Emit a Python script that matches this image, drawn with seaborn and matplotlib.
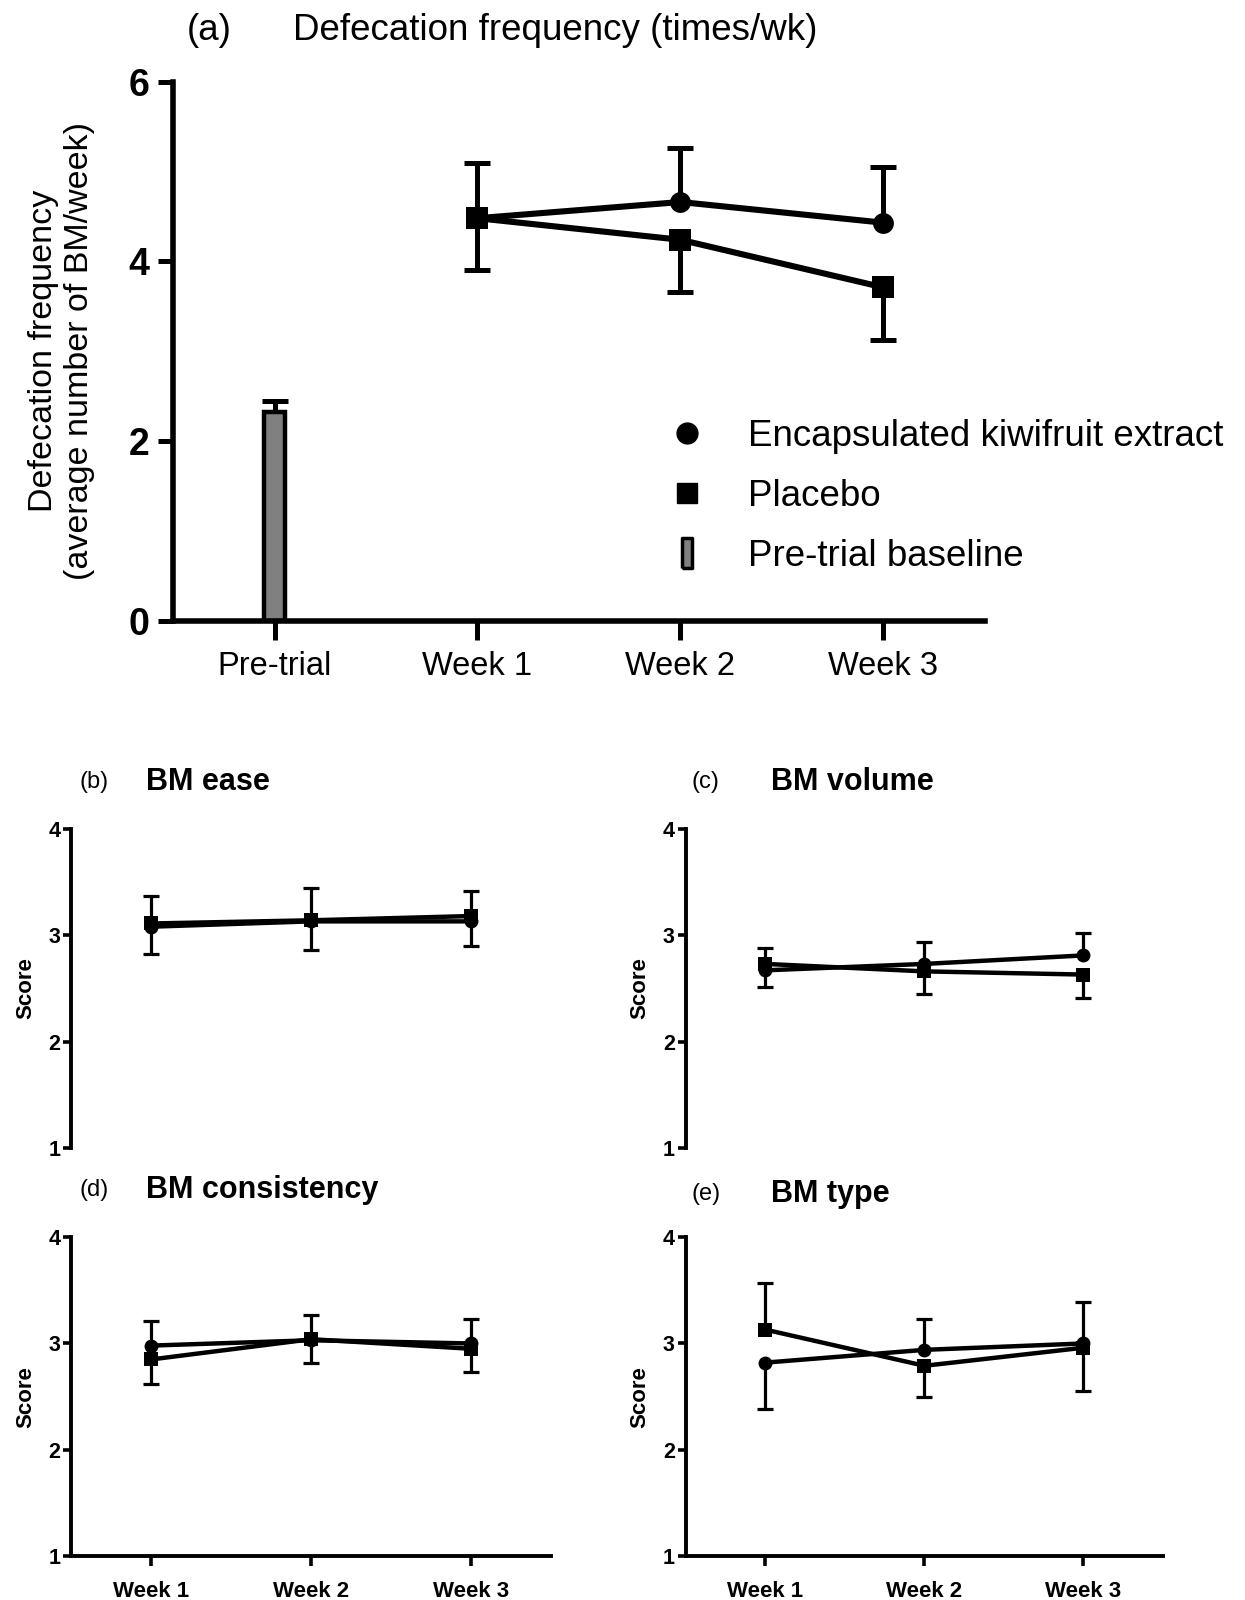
import numpy as np
import matplotlib
matplotlib.use("Agg")
import matplotlib.pyplot as plt
import seaborn as sns
from matplotlib.lines import Line2D

# ---------------- data ----------------
a_categories = ["Pre-trial", "Week 1", "Week 2", "Week 3"]
a_baseline_mean = [2.32]
a_baseline_sem = [0.13]
a_kiwi_mean = [4.48, 4.66, 4.43]
a_kiwi_sem = [0.61, 0.60, 0.62]
a_placebo_mean = [4.48, 4.24, 3.71]
a_placebo_sem = [0.58, 0.58, 0.59]

weeks = ["Week 1", "Week 2", "Week 3"]

b_kiwi_mean = [3.08, 3.13, 3.13]
b_kiwi_sem = [0.26, 0.27, 0.23]
b_placebo_mean = [3.11, 3.14, 3.18]
b_placebo_sem = [0.26, 0.30, 0.24]

c_kiwi_mean = [2.67, 2.73, 2.81]
c_kiwi_sem = [0.16, 0.21, 0.21]
c_placebo_mean = [2.73, 2.66, 2.63]
c_placebo_sem = [0.15, 0.21, 0.22]

d_kiwi_mean = [2.98, 3.03, 3.00]
d_kiwi_sem = [0.23, 0.21, 0.23]
d_placebo_mean = [2.85, 3.04, 2.95]
d_placebo_sem = [0.23, 0.23, 0.22]

e_kiwi_mean = [2.82, 2.94, 3.00]
e_kiwi_sem = [0.44, 0.29, 0.39]
e_placebo_mean = [3.13, 2.79, 2.96]
e_placebo_sem = [0.44, 0.29, 0.41]

legend_labels = ["Encapsulated kiwifruit extract", "Placebo", "Pre-trial baseline"]

# ---------------- style ----------------
sns.set_theme(style="ticks")
plt.rcParams["font.family"] = ["Liberation Sans", "DejaVu Sans"]
plt.rcParams["axes.edgecolor"] = "black"
plt.rcParams["text.color"] = "black"
plt.rcParams["axes.labelcolor"] = "black"
plt.rcParams["xtick.color"] = "black"
plt.rcParams["ytick.color"] = "black"

fig = plt.figure(figsize=(12.45, 16), dpi=100)


def one_sided_err(ax, x, y, err, up, elw, capw, z=2):
    x = np.asarray(x, float)
    y = np.asarray(y, float)
    err = np.asarray(err, float)
    sign = np.where(up, 1.0, -1.0)
    end = y + sign * err
    ax.vlines(x, y, end, color="black", linewidth=elw, zorder=z)
    ax.plot(x, end, ls="none", marker="_", ms=capw, mew=elw, color="black",
            zorder=z)


def draw_pair(ax, x, kiwi, kiwi_sem, plac, plac_sem, lw, ms_c, ms_s, elw, capw):
    kiwi = np.asarray(kiwi, float)
    plac = np.asarray(plac, float)
    kiwi_up = kiwi >= plac
    one_sided_err(ax, x, kiwi, kiwi_sem, kiwi_up, elw, capw)
    one_sided_err(ax, x, plac, plac_sem, ~kiwi_up, elw, capw)
    sns.lineplot(x=x, y=plac, ax=ax, color="black", linewidth=lw, marker="s",
                 markersize=ms_s, markeredgewidth=0, legend=False, zorder=3)
    sns.lineplot(x=x, y=kiwi, ax=ax, color="black", linewidth=lw, marker="o",
                 markersize=ms_c, markeredgewidth=0, legend=False, zorder=4)


# ---------------- panel (a) ----------------
ax = fig.add_axes([0.139, 0.612, 0.652, 0.337])
xa = np.arange(1, len(a_categories))
ax.bar([0], a_baseline_mean, width=0.1, color="#808080", edgecolor="black",
       linewidth=3.2, zorder=2)
one_sided_err(ax, [0], a_baseline_mean, a_baseline_sem, np.array([True]), 3.6, 19)
draw_pair(ax, xa, a_kiwi_mean, a_kiwi_sem, a_placebo_mean, a_placebo_sem,
          lw=4.4, ms_c=15, ms_s=15.5, elw=3.6, capw=19)
ax.set_xlim(-0.5, 3.5)
ax.set_ylim(0, 6)
ax.set_yticks([0, 2, 4, 6])
ax.set_xticks(range(len(a_categories)))
ax.set_xticklabels(a_categories, fontsize=23.5)
for t in ax.get_yticklabels():
    t.set_fontsize(27)
    t.set_fontweight("bold")
ax.tick_params(axis="x", length=14, width=3.6, pad=8)
ax.tick_params(axis="y", length=11, width=3.6, pad=6)
for s in ["left", "bottom"]:
    ax.spines[s].set_linewidth(4.0)
sns.despine(ax=ax)
ax.set_ylabel("Defecation frequency\n(average number of BM/week)", fontsize=24.5,
              labelpad=24)
ax.set_xlabel("")

bar_marker = [(-0.35, -1), (0.35, -1), (0.35, 1), (-0.35, 1), (-0.35, -1)]
handles = [
    Line2D([], [], ls="none", marker="o", color="black", ms=15),
    Line2D([], [], ls="none", marker="s", color="black", ms=15),
    Line2D([], [], ls="none", marker=bar_marker, markerfacecolor="#808080",
           markeredgecolor="black", mew=2.5, ms=21),
]
fig.legend(handles, legend_labels, loc="upper left",
           bbox_to_anchor=(0.537, 0.738), bbox_transform=fig.transFigure,
           frameon=False, fontsize=26.5, handlelength=1.0, handletextpad=1.15,
           labelspacing=0.67, borderpad=0, borderaxespad=0)

fig.text(0.150, 0.981, "(a)", fontsize=26.5, va="center", ha="left")
fig.text(0.2353, 0.981, "Defecation frequency (times/wk)", fontsize=26.5,
         va="center", ha="left")

# ---------------- small panels ----------------
panels = [
    ([0.0574, 0.2825, 0.385, 0.1995], b_kiwi_mean, b_kiwi_sem, b_placebo_mean,
     b_placebo_sem, False, "(b)", "BM ease", 0.064, 0.1172, 0.511),
    ([0.551, 0.2825, 0.383, 0.1995], c_kiwi_mean, c_kiwi_sem, c_placebo_mean,
     c_placebo_sem, False, "(c)", "BM volume", 0.5557, 0.619, 0.511),
    ([0.0574, 0.0274, 0.385, 0.1994], d_kiwi_mean, d_kiwi_sem, d_placebo_mean,
     d_placebo_sem, True, "(d)", "BM consistency", 0.064, 0.1172, 0.2563),
    ([0.551, 0.0274, 0.383, 0.1994], e_kiwi_mean, e_kiwi_sem, e_placebo_mean,
     e_placebo_sem, True, "(e)", "BM type", 0.5557, 0.619, 0.2538),
]
xs = np.arange(len(weeks))
for rect, km, ks, pm, ps, show_x, lab, title, lx, tx, ty in panels:
    axs = fig.add_axes(rect)
    draw_pair(axs, xs, km, ks, pm, ps, lw=3.2, ms_c=10, ms_s=10, elw=2.3, capw=12)
    axs.set_xlim(-0.5, 2.5)
    axs.set_ylim(1, 4)
    axs.set_yticks([1, 2, 3, 4])
    for t in axs.get_yticklabels():
        t.set_fontsize(15.5)
        t.set_fontweight("bold")
    axs.tick_params(axis="y", length=6, width=2.6, pad=2)
    axs.spines["left"].set_linewidth(2.8)
    sns.despine(ax=axs)
    if show_x:
        axs.set_xticks(xs)
        axs.set_xticklabels(weeks, fontsize=16, fontweight="bold")
        axs.tick_params(axis="x", length=7, width=2.6, pad=11)
        axs.spines["bottom"].set_linewidth(2.8)
    else:
        axs.set_xticks([])
        axs.spines["bottom"].set_visible(False)
    axs.set_ylabel("Score", fontsize=16, fontweight="bold", labelpad=9)
    axs.set_xlabel("")
    fig.text(lx, ty, lab, fontsize=17, va="center", ha="left")
    fig.text(tx, ty, title, fontsize=22, fontweight="bold", va="center", ha="left")

fig.savefig("out.png", dpi=100, facecolor="white")
